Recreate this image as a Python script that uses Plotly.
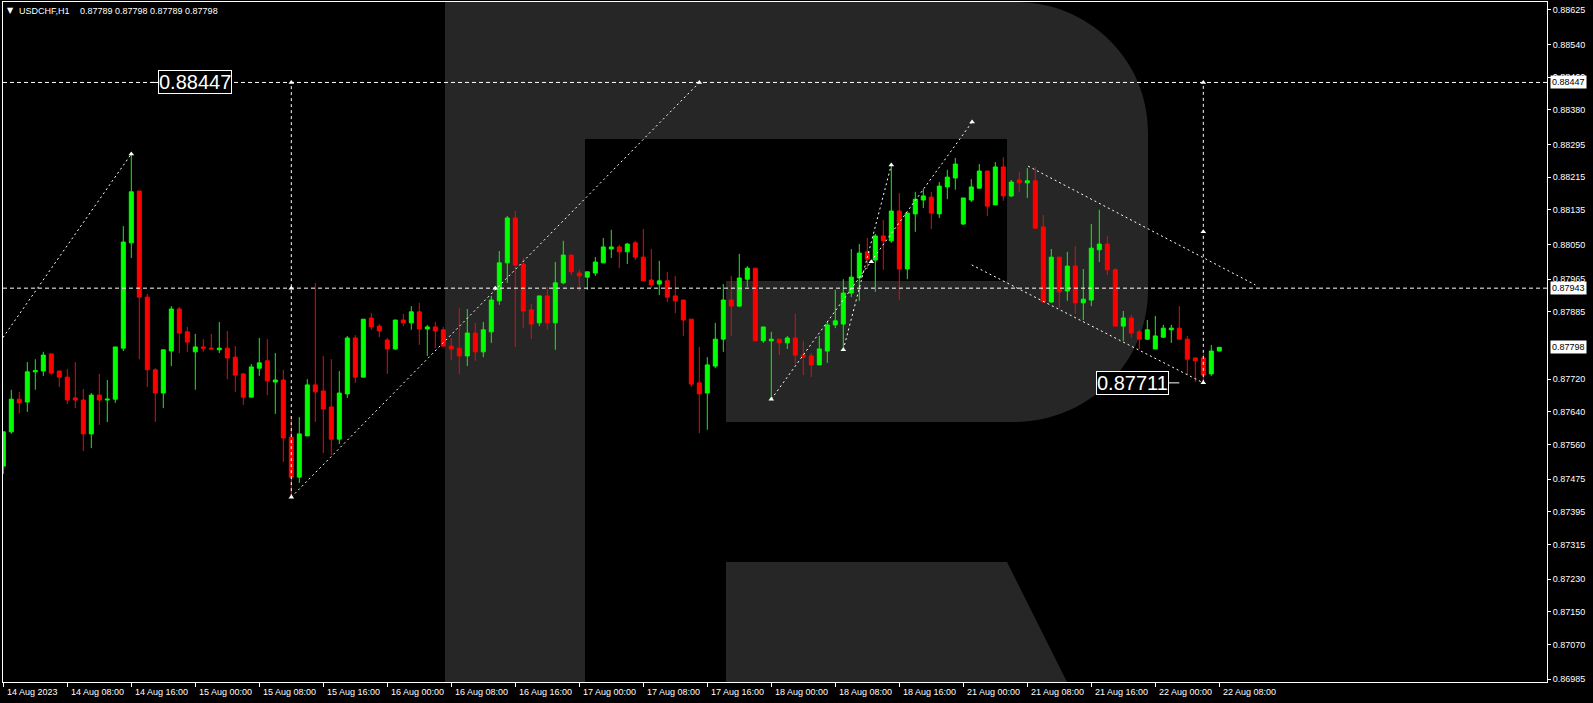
import plotly.graph_objects as go

# ---------------- data ----------------
bars = list(range(153))  # H1 bars from 14 Aug 2023 00:00 to 22 Aug 2023 08:00

open_ = [0.87507,0.87591,0.87671,0.87664,0.87738,0.87740,0.87782,0.87740,0.87725,0.87674,
         0.87669,0.87586,0.87681,0.87669,0.87671,0.87796,0.88054,0.88181,0.87921,0.87743,
         0.87686,0.87789,0.87892,0.87836,0.87787,0.87799,0.87796,0.87792,0.87796,0.87774,
         0.87733,0.87676,0.87747,0.87765,0.87713,0.87718,0.87578,0.87480,0.87581,0.87706,
         0.87691,0.87652,0.87573,0.87684,0.87821,0.87725,0.87870,0.87850,0.87816,0.87794,
         0.87865,0.87858,0.87885,0.87843,0.87848,0.87841,0.87801,0.87796,0.87777,0.87833,
         0.87787,0.87836,0.87912,0.88005,0.88115,0.88002,0.87890,0.87858,0.87924,0.87858,
         0.87956,0.88024,0.87980,0.87970,0.87980,0.88005,0.88039,0.88044,0.88032,0.88054,
         0.88019,0.87963,0.87953,0.87961,0.87924,0.87914,0.87867,0.87711,0.87686,0.87752,
         0.87818,0.87914,0.87899,0.87965,0.87992,0.87814,0.87814,0.87818,0.87809,0.87821,
         0.87779,0.87777,0.87755,0.87789,0.87853,0.87855,0.87931,0.87968,0.88032,0.88012,
         0.88071,0.88059,0.88132,0.87990,0.88125,0.88159,0.88166,0.88125,0.88191,0.88213,
         0.88100,0.88159,0.88188,0.88230,0.88147,0.88240,0.88169,0.88208,0.88201,0.88206,
         0.88093,0.87909,0.88019,0.87936,0.87997,0.87907,0.87914,0.88037,0.88051,0.87988,
         0.87850,0.87870,0.87836,0.87818,0.87794,0.87823,0.87841,0.87845,0.87818,0.87772,
         0.87772,0.87733,0.87789]
high_ = [0.87591,0.87694,0.87689,0.87762,0.87769,0.87787,0.87782,0.87740,0.87745,0.87762,
         0.87696,0.87686,0.87733,0.87718,0.87799,0.88095,0.88272,0.88181,0.87929,0.87747,
         0.87792,0.87899,0.87897,0.87848,0.87831,0.87818,0.87831,0.87860,0.87838,0.87801,
         0.87735,0.87757,0.87821,0.87818,0.87784,0.87743,0.87630,0.87627,0.87720,0.87956,
         0.87777,0.87769,0.87740,0.87826,0.87828,0.87867,0.87882,0.87855,0.87821,0.87865,
         0.87880,0.87899,0.87907,0.87853,0.87860,0.87848,0.87821,0.87894,0.87892,0.87858,
         0.87860,0.87924,0.88034,0.88120,0.88132,0.88017,0.87904,0.87924,0.87946,0.88007,
         0.88059,0.88024,0.87988,0.87983,0.88019,0.88066,0.88086,0.88049,0.88054,0.88059,
         0.88088,0.88039,0.88010,0.87983,0.87973,0.87914,0.87867,0.87799,0.87774,0.87858,
         0.87953,0.87973,0.88027,0.87997,0.87992,0.87848,0.87836,0.87818,0.87826,0.87880,
         0.87814,0.87784,0.87826,0.87860,0.87939,0.87965,0.88039,0.88051,0.88066,0.88076,
         0.88110,0.88245,0.88176,0.88127,0.88179,0.88186,0.88179,0.88203,0.88233,0.88262,
         0.88164,0.88210,0.88247,0.88230,0.88252,0.88264,0.88208,0.88228,0.88237,0.88240,
         0.88122,0.88039,0.88019,0.88032,0.88046,0.87990,0.88100,0.88135,0.88071,0.87992,
         0.87887,0.87877,0.87841,0.87865,0.87875,0.87853,0.87853,0.87899,0.87826,0.87772,
         0.87782,0.87804,0.87798]
low_ = [0.87488,0.87586,0.87637,0.87640,0.87694,0.87728,0.87730,0.87701,0.87659,0.87649,
        0.87544,0.87551,0.87608,0.87615,0.87662,0.87789,0.88017,0.87769,0.87701,0.87615,
        0.87649,0.87752,0.87784,0.87787,0.87694,0.87787,0.87792,0.87784,0.87720,0.87689,
        0.87657,0.87676,0.87728,0.87681,0.87635,0.87517,0.87431,0.87466,0.87581,0.87615,
        0.87539,0.87534,0.87561,0.87674,0.87711,0.87725,0.87841,0.87823,0.87733,0.87792,
        0.87850,0.87841,0.87804,0.87777,0.87796,0.87799,0.87767,0.87733,0.87752,0.87765,
        0.87774,0.87809,0.87902,0.87956,0.87799,0.87845,0.87818,0.87850,0.87841,0.87792,
        0.87953,0.87975,0.87936,0.87939,0.87973,0.88005,0.88017,0.87992,0.88002,0.88012,
        0.87961,0.87943,0.87926,0.87909,0.87882,0.87826,0.87701,0.87588,0.87596,0.87747,
        0.87787,0.87826,0.87897,0.87946,0.87814,0.87809,0.87671,0.87779,0.87794,0.87757,
        0.87730,0.87725,0.87755,0.87760,0.87845,0.87792,0.87921,0.87912,0.87990,0.87934,
        0.87988,0.88054,0.87914,0.87965,0.88081,0.88139,0.88088,0.88115,0.88161,0.88184,
        0.88098,0.88154,0.88188,0.88120,0.88147,0.88157,0.88166,0.88179,0.88164,0.88090,
        0.87909,0.87907,0.87894,0.87912,0.87880,0.87865,0.87899,0.88007,0.87975,0.87850,
        0.87814,0.87821,0.87794,0.87816,0.87794,0.87821,0.87809,0.87818,0.87730,0.87713,
        0.87711,0.87728,0.87789]
close_ = [0.87591,0.87671,0.87662,0.87738,0.87741,0.87779,0.87735,0.87725,0.87669,0.87669,
          0.87586,0.87681,0.87669,0.87671,0.87799,0.88056,0.88179,0.87921,0.87743,0.87686,
          0.87792,0.87892,0.87833,0.87811,0.87799,0.87796,0.87794,0.87796,0.87772,0.87730,
          0.87676,0.87750,0.87760,0.87716,0.87718,0.87576,0.87480,0.87586,0.87706,0.87689,
          0.87647,0.87573,0.87686,0.87821,0.87725,0.87867,0.87848,0.87838,0.87794,0.87865,
          0.87858,0.87885,0.87843,0.87848,0.87838,0.87801,0.87794,0.87777,0.87833,0.87787,
          0.87841,0.87914,0.88005,0.88115,0.88000,0.87887,0.87855,0.87924,0.87858,0.87956,
          0.88024,0.87983,0.87973,0.87983,0.88007,0.88044,0.88044,0.88032,0.88051,0.88019,
          0.87961,0.87951,0.87961,0.87921,0.87912,0.87865,0.87708,0.87684,0.87755,0.87818,
          0.87914,0.87899,0.87968,0.87992,0.87814,0.87848,0.87818,0.87809,0.87821,0.87779,
          0.87774,0.87755,0.87794,0.87853,0.87863,0.87931,0.87970,0.88029,0.88014,0.88071,
          0.88059,0.88132,0.87990,0.88127,0.88161,0.88169,0.88127,0.88193,0.88215,0.88247,
          0.88164,0.88191,0.88230,0.88144,0.88240,0.88169,0.88203,0.88201,0.88206,0.88090,
          0.87909,0.88019,0.87934,0.87997,0.87907,0.87916,0.88041,0.88051,0.87988,0.87850,
          0.87870,0.87833,0.87818,0.87841,0.87826,0.87845,0.87845,0.87818,0.87769,0.87765,
          0.87730,0.87789,0.87798]

date_ticks = [0, 8, 16, 24, 32, 40, 48, 56, 64, 72, 80, 88, 96, 104, 112, 120, 128, 136, 144, 152]
date_labels = ["14 Aug 2023", "14 Aug 08:00", "14 Aug 16:00", "15 Aug 00:00", "15 Aug 08:00",
               "15 Aug 16:00", "16 Aug 00:00", "16 Aug 08:00", "16 Aug 16:00", "17 Aug 00:00",
               "17 Aug 08:00", "17 Aug 16:00", "18 Aug 00:00", "18 Aug 08:00", "18 Aug 16:00",
               "21 Aug 00:00", "21 Aug 08:00", "21 Aug 16:00", "22 Aug 00:00", "22 Aug 08:00"]

# right-axis price scale labels (the one hidden under the current-price box is left out)
price_labels = ["0.88625", "0.88540", "0.88460", "0.88380", "0.88295", "0.88215", "0.88135",
                "0.88050", "0.87965", "0.87885", "0.87720", "0.87640", "0.87560",
                "0.87475", "0.87395", "0.87315", "0.87230", "0.87150", "0.87070", "0.86985"]

level_high = 0.88447
level_mid = 0.87943
level_low = 0.87711
last_price = 0.87798

# analysis lines (bar index, price)
trend_lines = [
    ((-0.04, 0.87822), (16, 0.88272)),
    ((36, 0.87431), (87, 0.88447)),
    ((96, 0.87671), (121.1, 0.88350)),
    ((105, 0.87792), (111, 0.88245)),
    ((128.1, 0.88242), (156.5, 0.87951)),
    ((121.05, 0.88000), (150, 0.87711)),
]
vertical_lines = [(36, 0.87431, 0.88447), (150, 0.87711, 0.88447)]
marker_x = [16, 36, 36, 36, 61.5, 87, 96, 105, 111, 108.5, 121.1, 150, 150, 150]
marker_y = [0.88272, 0.88447, 0.87943, 0.87431, 0.87943, 0.88447, 0.87671, 0.87792,
            0.88245, 0.88008, 0.88350, 0.88447, 0.88081, 0.87711]

# ---------------- layout geometry ----------------
W, H = 1593, 703
ML, MR, MT, MB = 3, 46, 2, 21
PW = W - ML - MR
PH = H - MT - MB

def px(x):
    return (x - ML) / PW

def py(y):
    return 1 - (y - MT) / PH

FONT = "Liberation Sans, Arial, sans-serif"
GRAY = "#262626"

fig = go.Figure()

fig.add_trace(go.Candlestick(
    x=bars, open=open_, high=high_, low=low_, close=close_,
    increasing=dict(line=dict(color="#00ff00", width=1), fillcolor="#00ff00"),
    decreasing=dict(line=dict(color="#ff0000", width=1), fillcolor="#ff0000"),
    whiskerwidth=0, hoverinfo="skip", showlegend=False,
))

fig.add_trace(go.Scatter(
    x=marker_x, y=marker_y, mode="markers",
    marker=dict(symbol="triangle-up", size=5, color="white"),
    hoverinfo="skip", showlegend=False, cliponaxis=False,
))

shapes = []
# watermark "R"
shapes.append(dict(type="rect", xref="paper", yref="paper", x0=px(445), x1=px(585), y0=py(682), y1=py(2),
                   fillcolor=GRAY, line=dict(width=0), layer="below"))
bowl = (f"M {px(585)},{py(2)} L {px(1016)},{py(2)} "
        f"C {px(1089)},{py(2)} {px(1148)},{py(60)} {px(1148)},{py(132)} "
        f"L {px(1148)},{py(290)} "
        f"C {px(1148)},{py(363)} {px(1088)},{py(422)} {px(1014)},{py(422)} "
        f"L {px(726)},{py(422)} L {px(726)},{py(281)} L {px(1007)},{py(281)} "
        f"L {px(1007)},{py(139)} L {px(585)},{py(139)} Z")
shapes.append(dict(type="path", xref="paper", yref="paper", path=bowl,
                   fillcolor=GRAY, line=dict(width=0), layer="below"))
leg = (f"M {px(726)},{py(562)} L {px(1007)},{py(562)} L {px(1067)},{py(682)} "
       f"L {px(726)},{py(682)} Z")
shapes.append(dict(type="path", xref="paper", yref="paper", path=leg,
                   fillcolor=GRAY, line=dict(width=0), layer="below"))

# horizontal levels
for lv in (level_high, level_mid):
    shapes.append(dict(type="line", xref="paper", yref="y", x0=0, x1=1, y0=lv, y1=lv,
                       line=dict(color="white", width=1, dash="4px,3px")))
# trend lines
for (a, b) in trend_lines:
    shapes.append(dict(type="line", xref="x", yref="y", x0=a[0], y0=a[1], x1=b[0], y1=b[1],
                       line=dict(color="white", width=1, dash="2px,3px")))
for (xv, y0, y1) in vertical_lines:
    shapes.append(dict(type="line", xref="x", yref="y", x0=xv, x1=xv, y0=y0, y1=y1,
                       line=dict(color="white", width=1, dash="3px,3px")))
# small solid connectors at the price labels
shapes.append(dict(type="line", xref="x", yref="y", x0=18.4, x1=19.4, y0=level_high, y1=level_high,
                   line=dict(color="white", width=1)))
shapes.append(dict(type="line", xref="x", yref="y", x0=145.7, x1=147.0, y0=level_low, y1=level_low,
                   line=dict(color="white", width=1)))

annotations = []
# title
annotations.append(dict(xref="paper", yref="paper", x=px(5), y=py(11), xanchor="left", yanchor="middle",
                        text="▼", showarrow=False, font=dict(family="DejaVu Sans", size=8, color="white")))
annotations.append(dict(xref="paper", yref="paper", x=px(17), y=py(11), xanchor="left", yanchor="middle",
                        text="USDCHF,H1", showarrow=False, font=dict(family=FONT, size=9, color="white")))
annotations.append(dict(xref="paper", yref="paper", x=px(78), y=py(11), xanchor="left", yanchor="middle",
                        text=f"{open_[-1]:.5f} {high_[-1]:.5f} {low_[-1]:.5f} {close_[-1]:.5f}",
                        showarrow=False, font=dict(family=FONT, size=9, color="white")))
# date labels (left aligned at tick)
for t, lab in zip(date_ticks, date_labels):
    annotations.append(dict(xref="x", yref="paper", x=t + 0.25, y=py(692), xanchor="left", yanchor="middle",
                            text=lab, showarrow=False, font=dict(family=FONT, size=9, color="white")))
# right axis price boxes
for lv in (level_high, level_mid, last_price):
    annotations.append(dict(xref="paper", yref="y", x=1, xshift=3, y=lv, xanchor="left", yanchor="middle",
                            text=f"{lv:.5f}", showarrow=False, bgcolor="white", borderpad=1,
                            font=dict(family=FONT, size=9, color="black")))
# big price labels
annotations.append(dict(xref="x", yref="y", x=23.9, y=level_high, xanchor="center", yanchor="middle",
                        text=f"{level_high:.5f}", showarrow=False, bgcolor="black", bordercolor="white",
                        borderwidth=1, borderpad=0, font=dict(family=FONT, size=20, color="white")))
annotations.append(dict(xref="x", yref="y", x=141.1, y=level_low, xanchor="center", yanchor="middle",
                        text=f"{level_low:.5f}", showarrow=False, bgcolor="black", bordercolor="white",
                        borderwidth=1, borderpad=0, font=dict(family=FONT, size=20, color="white")))

fig.update_layout(
    width=W, height=H,
    margin=dict(l=ML, r=MR, t=MT, b=MB, pad=0),
    paper_bgcolor="black", plot_bgcolor="black",
    showlegend=False, hovermode=False,
    boxgap=0.5, boxgroupgap=0,
    shapes=shapes, annotations=annotations,
    xaxis=dict(type="linear", range=[-0.0375, 192.9625], tickvals=date_ticks, showticklabels=False,
               ticks="outside", ticklen=4, tickcolor="white", showline=True, linecolor="white",
               linewidth=1, mirror=True, showgrid=False, zeroline=False, fixedrange=True,
               rangeslider=dict(visible=False)),
    yaxis=dict(side="right", range=[0.869781, 0.886441], tickvals=[float(v) for v in price_labels],
               ticktext=price_labels, ticks="outside", ticklen=3, tickcolor="white",
               tickfont=dict(family=FONT, size=9, color="white"), showline=True, linecolor="white",
               linewidth=1, mirror=True, showgrid=False, zeroline=False, fixedrange=True),
)

fig.write_html(
    "out.html",
    config={"displayModeBar": False},
    post_script="document.body.style.margin='0';document.body.style.overflow='hidden';document.body.style.background='black';",
)
